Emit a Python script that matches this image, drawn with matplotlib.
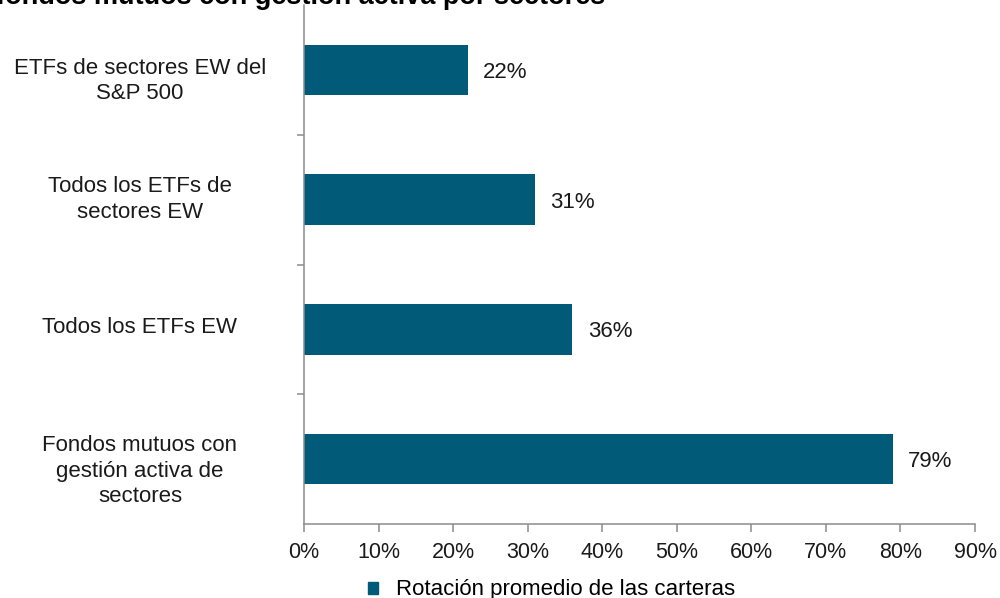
import matplotlib.pyplot as plt
import matplotlib.patches as mpatches
import matplotlib.transforms as mtransforms
import numpy as np

# data
categories = [
    "ETFs de sectores EW del\nS&P 500",
    "Todos los ETFs de\nsectores EW",
    "Todos los ETFs EW",
    "Fondos mutuos con\ngestión activa de\nsectores",
]
turnover = [22, 31, 36, 79]
x_ticks = [0, 10, 20, 30, 40, 50, 60, 70, 80, 90]
series_name = "Rotación promedio de las carteras"
title = "fondos mutuos con gestión activa por sectores"

# vertical nudge (px) of each category label, as the source chart places them
label_nudge = [-11, 0, 2, -12]

bar_color = "#005a78"
axis_color = "#8c8c8c"
text_color = "#1a1a1a"

plt.rcParams["font.family"] = ["Liberation Sans", "DejaVu Sans"]

fig = plt.figure(figsize=(10, 5.98), dpi=100)
ax = fig.add_axes([0.304, 0.1237, 0.975 - 0.304, 0.9913 - 0.1237])

y = np.arange(len(categories))
bars = ax.barh(y, turnover, height=0.39, color=bar_color, label=series_name)

# value labels to the right of each bar
for rect, v in zip(bars, turnover):
    ax.annotate(f"{v}%", (rect.get_width(), rect.get_y() + rect.get_height() / 2),
                xytext=(11, 0), textcoords="offset points",
                ha="left", va="center_baseline", fontsize=16, color=text_color)

ax.set_xlim(0, 90)
ax.set_ylim(len(categories) - 0.5, -0.5)

ax.set_xticks(x_ticks)
ax.set_xticklabels([f"{t}%" for t in x_ticks], fontsize=15.5, color=text_color)

# category labels centred left of the axis; tick marks sit between categories
ax.set_yticks(y)
ax.set_yticklabels([])
ax.tick_params(axis="y", which="major", length=0)
ax.set_yticks(np.arange(0.5, len(categories) - 0.5, 1), minor=True)
ax.tick_params(axis="y", which="minor", length=5, width=1.1, color=axis_color, direction="out")
ax.tick_params(axis="x", length=6, width=1.1, color=axis_color, direction="out", pad=7)

base = mtransforms.blended_transform_factory(ax.transAxes, ax.transData)
for yi, (cat, dy) in enumerate(zip(categories, label_nudge)):
    tr = mtransforms.offset_copy(base, fig=fig, x=-164, y=dy, units="dots")
    ax.text(0, yi, cat, transform=tr, ha="center", va="center", multialignment="center",
            fontsize=16, color=text_color, linespacing=1.3)

for side in ["top", "right"]:
    ax.spines[side].set_visible(False)
for side in ["left", "bottom"]:
    ax.spines[side].set_color(axis_color)
    ax.spines[side].set_linewidth(1.1)

fig.text(-0.004, 0.9933, title, fontsize=19.5, fontweight="bold", ha="left", va="baseline")

handle = mpatches.Patch(color=bar_color, label=series_name)
fig.legend(handles=[handle], loc="center left", bbox_to_anchor=(0.348, 0.0134),
           frameon=False, fontsize=16, handlelength=0.45, handleheight=0.45,
           handletextpad=0.8, borderpad=0.4)

fig.savefig("out.png", dpi=100)
